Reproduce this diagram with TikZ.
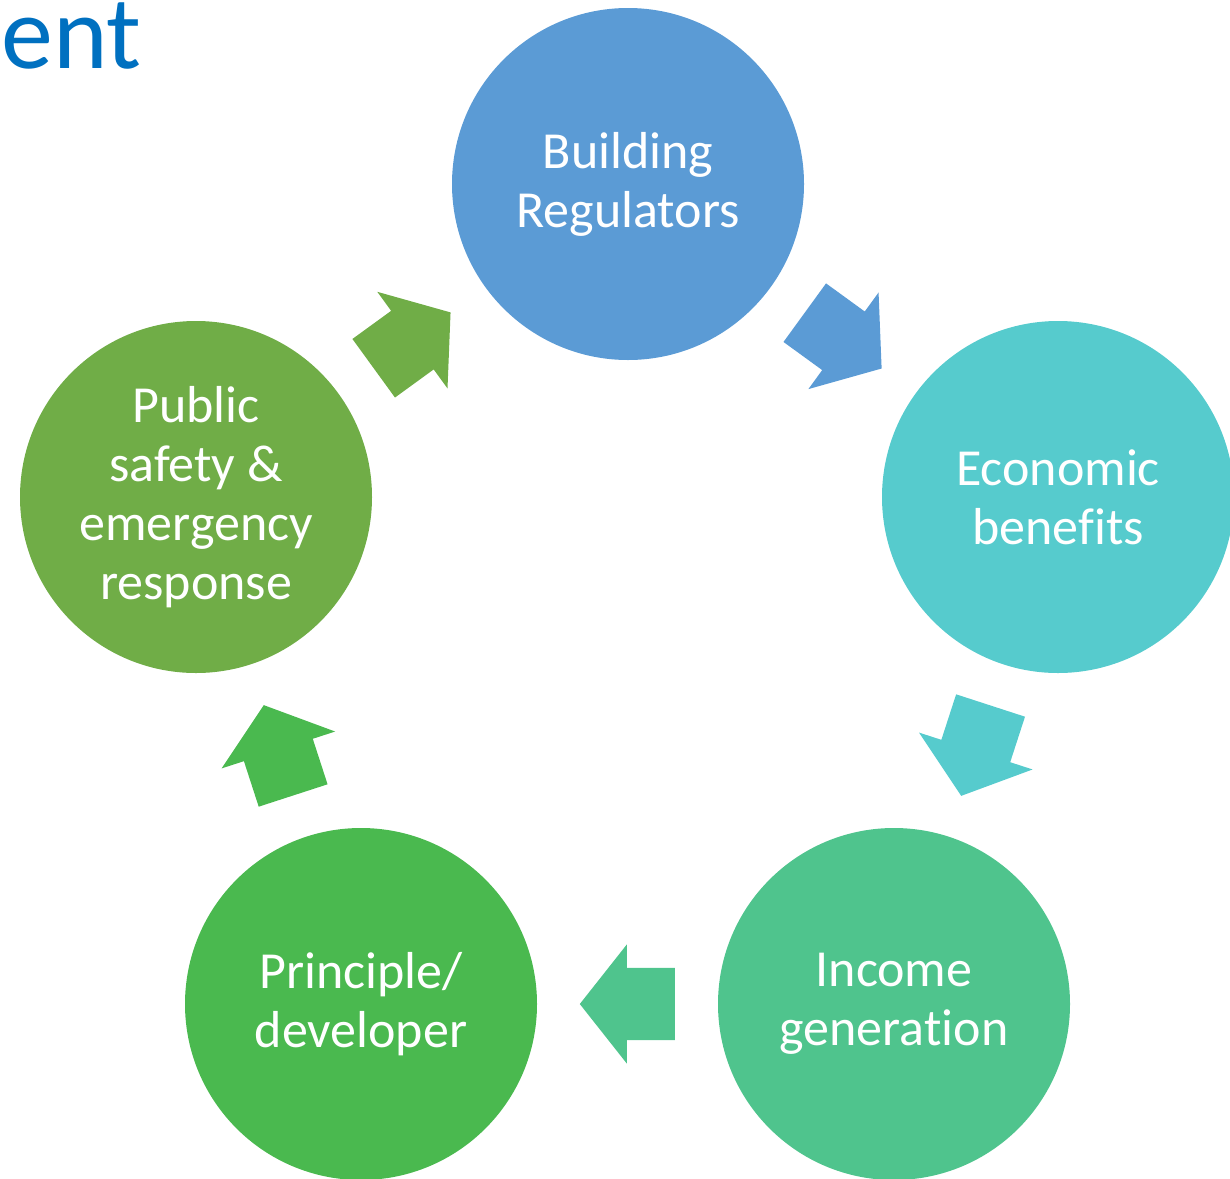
\documentclass[tikz,border=0pt]{standalone}
\usepackage{fontspec}
\setmainfont[Ligatures=NoCommon]{Carlito}
\usetikzlibrary{shapes.arrows}
\usetikzlibrary{calc}

\definecolor{titleblue}{HTML}{0070C0}
\definecolor{regblue}{HTML}{5B9BD5}
\definecolor{econteal}{HTML}{56CBCD}
\definecolor{incgreen}{HTML}{4FC48D}
\definecolor{devgreen}{HTML}{4AB94F}
\definecolor{pubgreen}{HTML}{70AD47}

\tikzset{
  stage/.style={circle, minimum size=352pt, inner sep=0pt, text=white, align=center,
    font=\fontsize{52}{59}\selectfont},
  flow/.style={single arrow, draw=none, minimum height=95pt, anchor=tail,
    inner xsep=0pt, inner ysep=36pt,
    single arrow head extend=23.5pt, single arrow tip angle=103.4,
    single arrow head indent=0pt}
}

\begin{document}
\begin{tikzpicture}[x=1pt,y=-1pt]
\useasboundingbox (0,0) rectangle (1230,1178);
\node[anchor=base east, inner sep=0pt, text=titleblue, font=\fontsize{104}{120}\selectfont] (title) at (142,68) {ent};
% the five stages
\node[stage, fill=regblue] (reg) at (628,184) {Building\\Regulators};
\node[stage, fill=econteal] (econ) at (1058,497) {Economic\\benefits};
\node[stage, fill=incgreen] (inc) at (894,1004) {Income\\generation};
\node[stage, fill=devgreen] (dev) at (361,1004) {Principle/\\developer};
\node[stage, fill=pubgreen] (pub) at (196,497) {Public\\safety \&\\emergency\\response};
% arrows between them, tail set back half a length from the midpoint
\node[flow, fill=regblue, rotate=-36] (a1) at ($($(reg)!0.5!(econ)$)!47.5pt!(reg)$) {};
\node[flow, fill=econteal, rotate=-108] (a2) at ($($(econ)!0.5!(inc)$)!47.5pt!(econ)$) {};
\node[flow, fill=incgreen, rotate=180] (a3) at ($($(inc)!0.5!(dev)$)!47.5pt!(inc)$) {};
\node[flow, fill=devgreen, rotate=108] (a4) at ($($(dev)!0.5!(pub)$)!47.5pt!(dev)$) {};
\node[flow, fill=pubgreen, rotate=36] (a5) at ($($(pub)!0.5!(reg)$)!47.5pt!(pub)$) {};
\end{tikzpicture}
\end{document}
